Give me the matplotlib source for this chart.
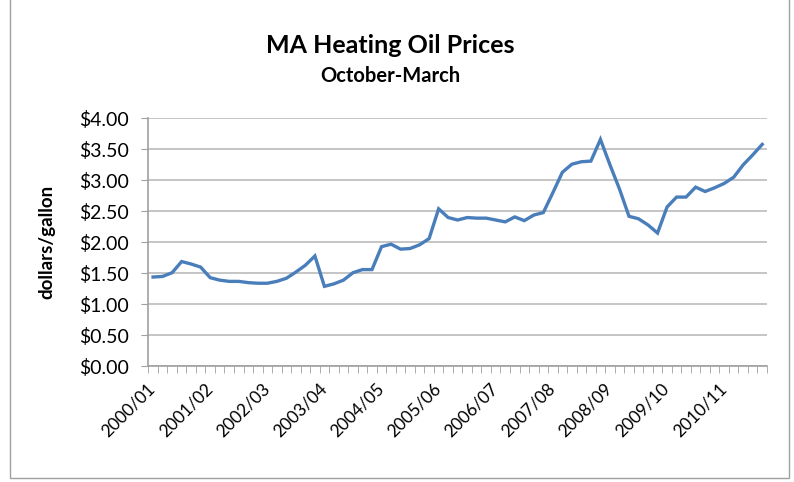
import numpy as np
from matplotlib import pyplot as plt
from matplotlib.patches import Rectangle
from matplotlib.transforms import ScaledTranslation

plt.rcParams['font.family'] = ['Lato', 'DejaVu Sans']

# monthly prices, October-March of each season (last season ends in February)
seasons = ["2000/01", "2001/02", "2002/03", "2003/04", "2004/05", "2005/06",
           "2006/07", "2007/08", "2008/09", "2009/10", "2010/11"]
prices = [1.44, 1.45, 1.51, 1.69, 1.65, 1.60,
          1.43, 1.39, 1.37, 1.37, 1.35, 1.34,
          1.34, 1.37, 1.42, 1.52, 1.63, 1.78,
          1.29, 1.33, 1.39, 1.51, 1.56, 1.56,
          1.93, 1.97, 1.89, 1.90, 1.96, 2.06,
          2.54, 2.40, 2.36, 2.40, 2.39, 2.39,
          2.36, 2.33, 2.41, 2.35, 2.44, 2.48,
          2.80, 3.13, 3.26, 3.30, 3.31, 3.66,
          3.25, 2.86, 2.42, 2.38, 2.28, 2.15,
          2.57, 2.73, 2.73, 2.89, 2.82, 2.88,
          2.95, 3.05, 3.25, 3.41, 3.58]
months_per_season = 6

fig = plt.figure(figsize=(7.94, 4.82), dpi=100)
fig.patches.append(Rectangle((0.012, 0.008), 0.982, 1.2, transform=fig.transFigure,
                             fill=False, edgecolor="#a0a0a0", linewidth=1))

ax = fig.add_axes([0.1868, 0.2400, 0.7792, 0.5145])
x = np.arange(len(prices))
ax.plot(x, prices, color="#4a7ebb", linewidth=2.4, solid_joinstyle="miter")

ax.set_xlim(-0.5, len(prices) - 0.5)
ax.set_ylim(0, 4)
ax.set_yticks(np.arange(0, 4.01, 0.5))
ax.set_yticklabels(["${:.2f}".format(v) for v in np.arange(0, 4.01, 0.5)])
ax.yaxis.grid(True, color="#c0c0c0", linewidth=1.3)
ax.set_axisbelow(True)

ax.set_xticks(np.arange(0, len(prices), months_per_season))
ax.set_xticklabels(seasons, rotation=45, ha="right", rotation_mode="anchor")
ax.set_xticks(np.arange(-0.5, len(prices), 1), minor=True)
ax.tick_params(axis="x", which="major", length=0, pad=10, labelsize=12.5)
ax.tick_params(axis="x", which="minor", length=5, color="#a0a0a0", direction="out")
ax.tick_params(axis="y", length=5, color="#a0a0a0", labelsize=14, pad=9)
shift = ScaledTranslation(-6 / 100, 0, fig.dpi_scale_trans)
for lab in ax.get_xticklabels():
    lab.set_transform(lab.get_transform() + shift)

for s in ["top", "right"]:
    ax.spines[s].set_visible(False)
for s in ["left", "bottom"]:
    ax.spines[s].set_color("#a0a0a0")
    ax.spines[s].set_linewidth(1.2)

ax.set_ylabel("dollars/gallon", fontsize=13.5, fontweight="bold")
ax.yaxis.set_label_coords(-0.15, 0.5)
fig.text(0.491, 0.905, "MA Heating Oil Prices", ha="center", va="center",
         fontsize=18, fontweight="bold")
fig.text(0.491, 0.843, "October-March", ha="center", va="center",
         fontsize=14.5, fontweight="bold")

fig.savefig("out.png", dpi=100)
